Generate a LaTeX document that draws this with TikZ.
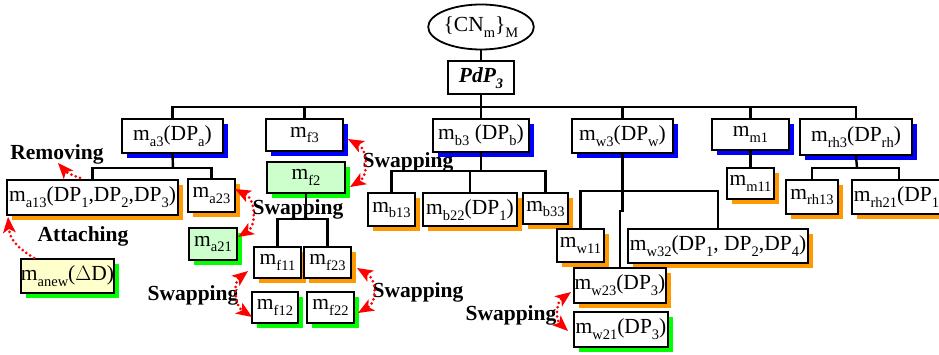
\documentclass[tikz,border=0pt]{standalone}
\usepackage{fontspec}
\setmainfont{Liberation Serif}
\usetikzlibrary{shapes.geometric,shadows,arrows.meta}
\definecolor{shblue}{RGB}{0,0,255}
\definecolor{shorange}{RGB}{255,153,0}
\definecolor{shgreen}{RGB}{0,255,0}
\definecolor{fgreen}{RGB}{204,255,204}
\definecolor{fyellow}{RGB}{255,255,204}
\definecolor{arrred}{RGB}{255,0,0}
\newcommand\sbx[1]{\raisebox{-0.27em}{\fontsize{14.5}{15}\selectfont #1}}
\newcommand\bodyfs{\fontsize{21.5}{24}\selectfont}
\begin{document}
\begin{tikzpicture}[x=1pt,y=-1pt,
  bx/.style={draw=black, line width=2pt, fill=white, inner sep=0pt, font=\bodyfs, rectangle},
  shb/.style={drop shadow={shadow xshift=5pt,shadow yshift=-5pt,fill=shblue,opacity=1,draw=none}},
  sho/.style={drop shadow={shadow xshift=5pt,shadow yshift=-5pt,fill=shorange,opacity=1,draw=none}},
  shg/.style={drop shadow={shadow xshift=5pt,shadow yshift=-5pt,fill=shgreen,opacity=1,draw=none}},
  lbl/.style={font=\bodyfs\bfseries, inner sep=0pt},
  ln/.style={draw=black, line width=2.4pt},
  redtip/.tip={Stealth[length=16pt,width=13pt,inset=4pt,line width=0pt]},
  dotred/.style={draw=arrred, line width=3pt, dash pattern=on 0pt off 4.6pt, line cap=round},
  swaparr/.style={dotred, redtip-redtip},
  onearr/.style={dotred, -redtip}
]
\useasboundingbox (0,0) rectangle (939,355);
\clip (0,0) rectangle (939,355);

% top
\node[draw=black, line width=1.8pt, ellipse, inner sep=0pt, minimum width=104, minimum height=45, font=\bodyfs] (cn) at (481,27) {\{CN\sbx{m}\}\sbx{M}};
\node[bx, minimum width=66, minimum height=33] (pdp) at (481,78) {\textbf{\textit{PdP\sbx{\textbf{\textit{3}}}}}};

% level 1
\node[bx, shb, minimum width=101, minimum height=34] (a3) at (172.5,136) {m\sbx{a3}(DP\sbx{a})};
\node[bx, shb, minimum width=77, minimum height=32] (f3) at (304.5,135) {m\sbx{f3}};
\node[bx, shb, minimum width=96, minimum height=33] (b3) at (481,135.5) {m\sbx{b3} (DP\sbx{b})};
\node[bx, shb, minimum width=101, minimum height=34] (w3) at (622.5,136) {m\sbx{w3}(DP\sbx{w})};
\node[bx, shb, minimum width=77, minimum height=31] (m1) at (750.5,134.5) {m\sbx{m1}};
\node[bx, shb, minimum width=112, minimum height=36] (rh3) at (856,137) {m\sbx{rh3}(DP\sbx{rh})};

% a subtree
\node[bx, sho, minimum width=171, minimum height=35] (a13) at (92.5,197.5) {m\sbx{a13}(DP\sbx{1},DP\sbx{2},DP\sbx{3})};
\node[bx, sho, minimum width=47, minimum height=33] (a23) at (211.5,195.5) {m\sbx{a23}};
\node[bx, shg, fill=fgreen, minimum width=48, minimum height=32] (a21) at (213,244) {m\sbx{a21}};
\node[bx, shg, fill=fyellow, minimum width=93, minimum height=34] (anew) at (67.5,276) {m\sbx{anew}($\Delta$D)};

% f subtree
\node[bx, shg, fill=fgreen, minimum width=78, minimum height=31] (f2) at (306,177.5) {m\sbx{f2}};
\node[bx, sho, minimum width=47, minimum height=31] (f11) at (277.5,262.5) {m\sbx{f11}};
\node[bx, sho, minimum width=47, minimum height=31] (f23) at (327.5,262.5) {m\sbx{f23}};
\node[bx, shg, minimum width=46, minimum height=31] (f12) at (275,307.5) {m\sbx{f12}};
\node[bx, shg, minimum width=47, minimum height=31] (f22) at (330.5,307.5) {m\sbx{f22}};

% b subtree
\node[bx, sho, minimum width=47, minimum height=33] (b13) at (391.5,210) {m\sbx{b13}};
\node[bx, sho, minimum width=94, minimum height=33] (b22) at (470,210) {m\sbx{b22}(DP\sbx{1})};
\node[bx, sho, minimum width=45, minimum height=31] (b33) at (545.5,209) {m\sbx{b33}};

% w subtree
\node[bx, sho, minimum width=47, minimum height=33] (w11) at (580.5,245.5) {m\sbx{w11}};
\node[bx, sho, minimum width=180, minimum height=34] (w32) at (718,246) {m\sbx{w32}(DP\sbx{1}, DP\sbx{2},DP\sbx{4})};
\node[bx, sho, minimum width=92, minimum height=35] (w23) at (620,285.5) {m\sbx{w23}(DP\sbx{3})};
\node[bx, shg, minimum width=94, minimum height=35] (w21) at (621,329.5) {m\sbx{w21}(DP\sbx{3})};

% m subtree
\node[bx, sho, minimum width=47, minimum height=31] (m11) at (750.5,183.5) {m\sbx{m11}};

% rh subtree
\node[bx, sho, minimum width=96, minimum height=34, anchor=west] (rh21) at (851,197) {m\sbx{rh21}(DP\sbx{1})};
\node[bx, sho, minimum width=52, minimum height=34] (rh13) at (812,197) {m\sbx{rh13}};

% junctions
\coordinate (bus) at (481,107);
\coordinate (ja) at (173,168);
\coordinate (jf) at (306,219);
\coordinate (jb) at (481,171);
\coordinate (jw) at (622.5,191);
\coordinate (jwj) at (0,211);
\coordinate (jr) at (857,168);

% tree lines
\draw[ln] (cn.south) -- (pdp.north);
\draw[ln] (pdp.south) -- (b3.north);
\draw[ln] (a3.north) |- (bus) -| (rh3.north);
\draw[ln] (f3.north) -- (f3.north |- bus);
\draw[ln] (w3.north) -- (w3.north |- bus);
\draw[ln] (m1.north) -- (m1.north |- bus);

\draw[ln] (a3.south) -- (ja);
\draw[ln] (a13.north) |- (ja) -| (a23.north);

\draw[ln] (f2.south) -- (jf);
\draw[ln] (f11.north) |- (jf) -| (f23.north);

\draw[ln] (b3.south) -- (jb);
\draw[ln] (b13.north) |- (jb) -| (b33.north);
\draw[ln] (b22.north) -- (b22.north |- jb);

\draw[ln] (w3.south) -- (w3.south |- jwj) -- (w23.north |- jwj) -- (w23.north);
\draw[ln] (w11.north) |- (jw) -| (w32.north);

\draw[ln] (m1.south) -- (m11.north);

\draw[ln] (rh3.south) -- (jr);
\draw[ln] (rh13.north) |- (jr) -| ([xshift=-1pt]rh21.north);

% labels
\node[lbl] (lrem) at (57,154) {Removing};
\node[lbl] (latt) at (83,236) {Attaching};
\node[lbl] (ls1) at (408,162) {Swapping};
\node[lbl] (ls2) at (298,209) {Swapping};
\node[lbl] (ls3) at (193,295) {Swapping};
\node[lbl] (ls4) at (418,292) {Swapping};
\node[lbl] (ls5) at (511,315) {Swapping};

% red arrows
\coordinate (remS) at (80,178);
\coordinate (remE) at (58,163);
\draw[onearr] (remS) .. controls (74,176) and (66,172) .. (remE);
\coordinate (attS) at (34,258);
\coordinate (attE) at (8,217);
\draw[onearr] (attS) .. controls (18,248) and (10,240) .. (attE);

\coordinate (s2A) at (235,189);
\coordinate (s2B) at (238,237);
\draw[swaparr] (s2A) .. controls (256,200) and (256,226) .. (s2B);
\coordinate (s1A) at (348,139);
\coordinate (s1B) at (350,187);
\draw[swaparr] (s1A) .. controls (368,150) and (368,176) .. (s1B);
\coordinate (s3A) at (248,271);
\coordinate (s3B) at (252,317);
\draw[swaparr] (s3A) .. controls (234,282) and (234,305) .. (s3B);
\coordinate (s4A) at (357,268);
\coordinate (s4B) at (358,313);
\draw[swaparr] (s4A) .. controls (377,280) and (377,302) .. (s4B);
\coordinate (s5A) at (571,292);
\coordinate (s5B) at (568,331);
\draw[swaparr] (s5A) .. controls (556,303) and (556,320) .. (s5B);
\end{tikzpicture}
\end{document}
